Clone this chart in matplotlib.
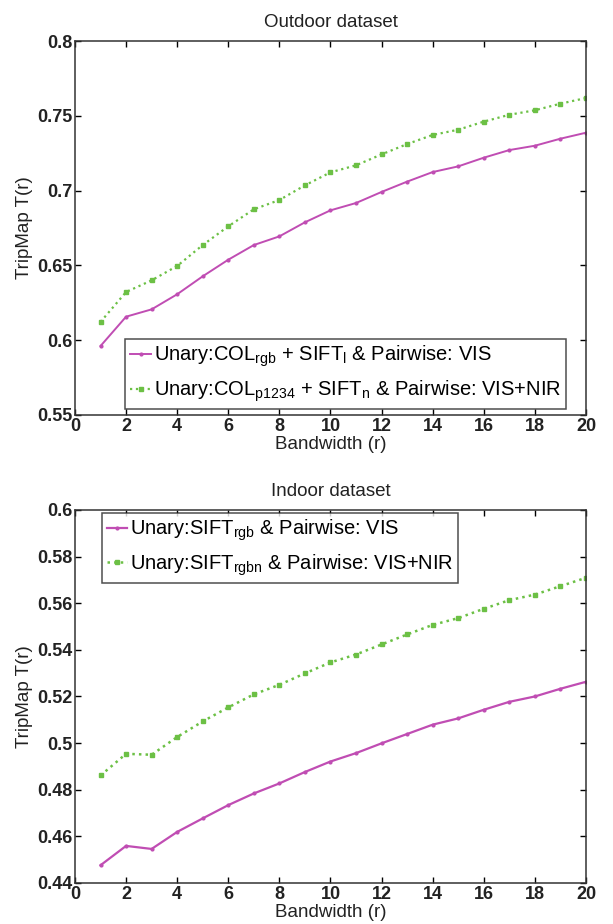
import matplotlib
matplotlib.use("Agg")
import matplotlib.pyplot as plt
from matplotlib.ticker import FormatStrFormatter

plt.rcParams['font.family'] = ['Liberation Sans', 'DejaVu Sans']
plt.rcParams['mathtext.fontset'] = 'custom'
plt.rcParams['mathtext.rm'] = 'Liberation Sans'

bandwidth = list(range(1, 21))

outdoor_vis = [0.5961, 0.6157, 0.6206, 0.6307, 0.6427, 0.6538, 0.6636, 0.6694, 0.6788, 0.6868,
               0.6917, 0.6991, 0.7060, 0.7124, 0.7162, 0.7220, 0.7271, 0.7300, 0.7347, 0.7387]
outdoor_nir = [0.6122, 0.6322, 0.6400, 0.6496, 0.6636, 0.6761, 0.6875, 0.6937, 0.7035, 0.7122,
               0.7169, 0.7242, 0.7311, 0.7372, 0.7407, 0.7461, 0.7507, 0.7537, 0.7581, 0.7619]

indoor_vis = [0.4476, 0.4559, 0.4546, 0.4619, 0.4677, 0.4734, 0.4784, 0.4827, 0.4876, 0.4921,
              0.4957, 0.4999, 0.5039, 0.5079, 0.5106, 0.5143, 0.5177, 0.5200, 0.5233, 0.5263]
indoor_nir = [0.4861, 0.4954, 0.4950, 0.5026, 0.5093, 0.5153, 0.5209, 0.5250, 0.5299, 0.5346,
              0.5380, 0.5423, 0.5466, 0.5507, 0.5536, 0.5576, 0.5613, 0.5637, 0.5673, 0.5709]

outdoor_labels = [r"Unary:COL$_{\mathregular{rgb}}$ + SIFT$_{\mathregular{l}}$ & Pairwise: VIS",
                  r"Unary:COL$_{\mathregular{p1234}}$ + SIFT$_{\mathregular{n}}$ & Pairwise: VIS+NIR"]
indoor_labels = [r"Unary:SIFT$_{\mathregular{rgb}}$ & Pairwise: VIS",
                 r"Unary:SIFT$_{\mathregular{rgbn}}$ & Pairwise: VIS+NIR"]

magenta = '#c04db3'
green = '#6cc045'

fig = plt.figure(figsize=(6.13, 9.24), dpi=100)
ax1 = fig.add_axes([0.1223, 0.5509, 0.8336, 0.4047])
ax2 = fig.add_axes([0.1223, 0.0444, 0.8336, 0.4037])


def style_axes(ax, title, ylim, yticks):
    ax.set_xlim(0, 20)
    ax.set_xticks(range(0, 21, 2))
    ax.set_ylim(*ylim)
    ax.set_yticks(yticks)
    ax.yaxis.set_major_formatter(FormatStrFormatter('%g'))
    ax.tick_params(direction='in', top=True, right=True, length=4, width=1, pad=2, labelsize=13)
    for lab in ax.get_xticklabels() + ax.get_yticklabels():
        lab.set_fontweight('bold')
        lab.set_color('#222222')
    for sp in ax.spines.values():
        sp.set_linewidth(1.1)
        sp.set_color('#333333')
    ax.set_title(title, fontsize=13.5, pad=10, color='#222222')
    ax.set_xlabel("Bandwidth (r)", fontsize=13.5, labelpad=1, color='#222222')
    ax.set_ylabel("TripMap T(r)", fontsize=13.5, labelpad=3, color='#222222')


ax1.plot(bandwidth, outdoor_vis, '-', color=magenta, lw=1.4, marker='.', ms=4, label=outdoor_labels[0])
ax1.plot(bandwidth, outdoor_nir, ':', color=green, lw=1.6, marker='s', ms=3.5, label=outdoor_labels[1])
style_axes(ax1, "Outdoor dataset", (0.55, 0.8), [0.55, 0.6, 0.65, 0.7, 0.75, 0.8])
leg1 = ax1.legend(loc='lower right', bbox_to_anchor=(0.961, 0.016), fontsize=14.5, frameon=True,
                  fancybox=False, edgecolor='#222222', handlelength=1.0, handletextpad=0.15,
                  borderpad=0.25, labelspacing=0.45, borderaxespad=0)
leg1.get_frame().set_linewidth(1.1)

ax2.plot(bandwidth, indoor_vis, '-', color=magenta, lw=1.6, marker='.', ms=4, label=indoor_labels[0])
ax2.plot(bandwidth, indoor_nir, ':', color=green, lw=1.8, marker='s', ms=3.5, label=indoor_labels[1])
style_axes(ax2, "Indoor dataset", (0.44, 0.6), [0.44, 0.46, 0.48, 0.5, 0.52, 0.54, 0.56, 0.58, 0.6])
leg2 = ax2.legend(loc='upper left', bbox_to_anchor=(0.052, 0.993), fontsize=14.5, frameon=True,
                  fancybox=False, edgecolor='#222222', handlelength=1.0, handletextpad=0.15,
                  borderpad=0.25, labelspacing=0.45, borderaxespad=0)
leg2.get_frame().set_linewidth(1.1)

fig.savefig("out.png", dpi=100)
